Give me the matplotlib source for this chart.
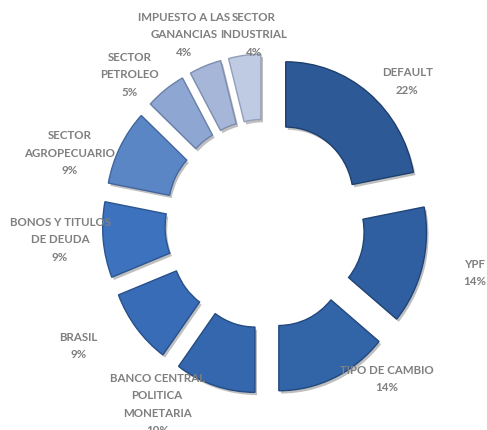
import matplotlib
matplotlib.use("Agg")
import matplotlib.pyplot as plt
from matplotlib import font_manager
import matplotlib.patheffects as pe
import numpy as np

categories = ["DEFAULT", "YPF", "TIPO DE CAMBIO", "BANCO CENTRAL\nPOLITICA\nMONETARIA",
              "BRASIL", "BONOS Y TITULOS\nDE DEUDA", "SECTOR\nAGROPECUARIO",
              "SECTOR\nPETROLEO", "IMPUESTO A LAS\nGANANCIAS", "SECTOR\nINDUSTRIAL"]
values = [22, 14, 14, 10, 9, 9, 9, 5, 4, 4]

colors = ["#2D5A96", "#2F5FA0", "#3264A8", "#3467AE", "#386CB6", "#3D72BE",
          "#5A86C6", "#8DA6D2", "#A6B6D8", "#BFCAE3"]
edge_colors = ["#1D3F6E", "#1F4476", "#22487E", "#244B83", "#27508A", "#2B5590",
               "#41659C", "#6A80A8", "#7D8DAE", "#939FBA"]

# label layout: radius and angle shift relative to the wedge middle
label_radius = [1.52, 1.65, 1.47, 1.56, 1.69, 1.58, 1.59, 1.52, 1.53, 1.40]
label_shift = [-6.5, 2.1, 14.4, -14.1, -6.0, -1.4, 7.6, 5.5, 2.4, -3.7]

def pick_font():
    for fam in ["Liberation Sans Narrow", "DejaVu Sans Condensed", "Lato"]:
        try:
            font_manager.findfont(font_manager.FontProperties(family=fam, weight="bold"),
                                  fallback_to_default=False)
            return fam
        except Exception:
            pass
    return "DejaVu Sans"

fam = pick_font()

fig = plt.figure(figsize=(4.87, 4.31), dpi=100)
ax = fig.add_axes([0, 0, 1, 1])
wedges, _ = ax.pie(values, explode=[0.25] * len(values), radius=1.0,
                   startangle=90, counterclock=False, colors=colors,
                   wedgeprops=dict(width=0.48, linewidth=1.0))
for w, ec in zip(wedges, edge_colors):
    w.set_edgecolor(ec)
    w.set_path_effects([pe.SimplePatchShadow(offset=(1.5, -2), shadow_rgbFace="#000000", alpha=0.25),
                        pe.Normal()])

for w, cat, v, rr, sh in zip(wedges, categories, values, label_radius, label_shift):
    mid = np.deg2rad((w.theta1 + w.theta2) / 2 + sh)
    ax.text(rr * np.cos(mid), rr * np.sin(mid), f"{cat}\n{v}%", ha="center", va="center",
            fontsize=8.3, fontweight="bold", color="#7F7F7F", family=fam,
            linespacing=1.72)

ax.set_aspect("auto")
ax.set_xlim(-265 / 130, (487 - 265) / 130)
ax.set_ylim(-(431 - 225) / 136, 225 / 136)
ax.axis("off")
fig.savefig("out.png", dpi=100)
